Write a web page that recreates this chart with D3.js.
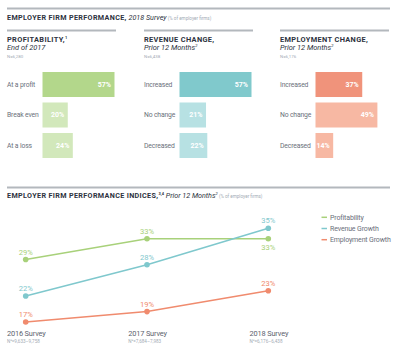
<!DOCTYPE html>
<html><head><meta charset="utf-8">
<script src="https://cdn.jsdelivr.net/npm/d3@7"></script>
<style>html,body{margin:0;padding:0;background:#fff;}svg{display:block;font-family:Roboto,"Noto Sans",sans-serif;}</style>
</head><body><svg id="c" width="400" height="360"></svg>
<script>
const profitCats = ["At a profit","Break even","At a loss"];
const profitVals = [57,20,24];
const revenueCats = ["Increased","No change","Decreased"];
const revenueVals = [57,21,22];
const employmentCats = ["Increased","No change","Decreased"];
const employmentVals = [37,49,14];

const surveys = ["2016 Survey","2017 Survey","2018 Survey"];
const surveyN = ["N\u2075=9,633\u20139,758","N\u2075=7,684\u20137,983","N\u2075=6,176\u20136,438"];
const profitability = [29,33,33];
const revenueGrowth = [22,28,35];
const employmentGrowth = [17,19,23];
const seriesNames = ["Profitability","Revenue Growth","Employment Growth"];

const svg = d3.select("#c");
const dark = "#2d3340", gray = "#6b707b", light = "#a3abb5", rule = "#b3b8bd";

function rl(x1,x2,y){svg.append("line").attr("x1",x1).attr("x2",x2).attr("y1",y).attr("y2",y).attr("stroke",rule).attr("stroke-width",2);}

// top title
rl(7,390,8.5);
let t = svg.append("text").attr("x",7).attr("y",19.5).attr("font-size",7.2).attr("fill",dark);
t.append("tspan").attr("font-weight",700).attr("letter-spacing",0.35).text("EMPLOYER FIRM PERFORMANCE,");
t.append("tspan").attr("font-style","italic").text(" 2018 Survey");
t.append("tspan").attr("font-size",4.6).attr("fill",light).text("  (% of employer firms)");

const panels = [
  {x0:7, title:"PROFITABILITY,", sup:"1", sub:"End of 2017", subSup:"", n:"N=6,280", cats:profitCats, vals:profitVals, c1:"#b3d78b", c2:"#d2e8bb"},
  {x0:144, title:"REVENUE CHANGE,", sup:"", sub:"Prior 12 Months", subSup:"2", n:"N=6,438", cats:revenueCats, vals:revenueVals, c1:"#80c9cc", c2:"#b7e1e3"},
  {x0:280, title:"EMPLOYMENT CHANGE,", sup:"", sub:"Prior 12 Months", subSup:"2", n:"N=6,176", cats:employmentCats, vals:employmentVals, c1:"#f0937b", c2:"#f7b8a3"}
];
const xb = d3.scaleLinear().domain([0,57]).range([0,72]);
panels.forEach(p=>{
  rl(p.x0,p.x0+109,30.5);
  const tt = svg.append("text").attr("x",p.x0).attr("y",41.5).attr("font-size",7.4).attr("fill",dark).attr("font-weight",700).attr("letter-spacing",0.35);
  tt.append("tspan").text(p.title);
  if(p.sup) tt.append("tspan").attr("font-size",4).attr("dy",-3).text(p.sup);
  const st = svg.append("text").attr("x",p.x0).attr("y",50).attr("font-size",7.4).attr("fill",dark).attr("font-style","italic");
  st.append("tspan").text(p.sub);
  if(p.subSup) st.append("tspan").attr("font-size",4).attr("dy",-3).text(p.subSup);
  svg.append("text").attr("x",p.x0).attr("y",58).attr("font-size",4.4).attr("fill",light).text(p.n);
  const yb = d3.scaleBand().domain(p.cats).range([72,158]).paddingInner(0.18);
  const bx = p.x0+35.5;
  const g = svg.append("g");
  p.cats.forEach((c,i)=>{
    const v = p.vals[i];
    g.append("rect").attr("x",bx).attr("y",yb(c)).attr("width",xb(v)).attr("height",yb.bandwidth()).attr("fill",i===0?p.c1:p.c2);
    g.append("text").attr("x",p.x0).attr("y",yb(c)+yb.bandwidth()/2).attr("dy","0.35em").attr("font-size",6.8).attr("fill",gray).attr("letter-spacing",-0.15).text(c);
    g.append("text").attr("x",bx+xb(v)-3.5).attr("y",yb(c)+yb.bandwidth()/2).attr("dy","0.35em").attr("text-anchor","end").attr("font-size",7).attr("font-weight",700).attr("fill","#fff").text(v+"%");
  });
});

// bottom section
rl(7,390,187.5);
let t2 = svg.append("text").attr("x",7).attr("y",197.5).attr("font-size",7.2).attr("fill",dark);
t2.append("tspan").attr("font-weight",700).attr("letter-spacing",0.35).text("EMPLOYER FIRM PERFORMANCE INDICES,");
t2.append("tspan").attr("font-size",4).attr("dy",-3).attr("font-weight",700).text("3,4");
t2.append("tspan").attr("font-style","italic").attr("dy",3).text(" Prior 12 Months");
t2.append("tspan").attr("font-style","italic").attr("font-size",4).attr("dy",-3).text("2");
t2.append("tspan").attr("font-size",4.6).attr("fill",light).attr("dy",3).text("  (% of employer firms)");

const x = d3.scalePoint().domain(surveys).range([25.7,268.3]);
const y = d3.scaleLinear().domain([17,35]).range([322,228.3]);
const series = [
  {name:seriesNames[0], vals:profitability, color:"#a8d17a", below:[false,false,true]},
  {name:seriesNames[1], vals:revenueGrowth, color:"#7fc8cd", below:[false,false,false]},
  {name:seriesNames[2], vals:employmentGrowth, color:"#f08b6e", below:[false,false,false]}
];
const line = d3.line().x((d,i)=>x(surveys[i])).y(d=>y(d));
series.forEach(s=>{
  svg.append("path").attr("d",line(s.vals)).attr("fill","none").attr("stroke",s.color).attr("stroke-width",1.5);
  s.vals.forEach((v,i)=>{
    svg.append("circle").attr("cx",x(surveys[i])).attr("cy",y(v)).attr("r",2.8).attr("fill",s.color);
    svg.append("text").attr("x",x(surveys[i])).attr("y",s.below[i]?y(v)+11:y(v)-5).attr("text-anchor","middle").attr("font-size",7.6).attr("fill",s.color).text(v+"%");
  });
});
surveys.forEach((s,i)=>{
  svg.append("text").attr("x",x(s)-18.8).attr("y",335.5).attr("font-size",7.4).attr("fill","#5d636e").attr("letter-spacing",-0.15).text(s);
  svg.append("text").attr("x",x(s)-18.8).attr("y",342.5).attr("font-size",4.6).attr("fill",light).text(surveyN[i]);
});
// legend
const ly = d3.scalePoint().domain(seriesNames).range([217.3,239.7]);
series.forEach(s=>{
  svg.append("line").attr("x1",321.5).attr("x2",327).attr("y1",ly(s.name)).attr("y2",ly(s.name)).attr("stroke",s.color).attr("stroke-width",1.5);
  svg.append("text").attr("x",330).attr("y",ly(s.name)).attr("dy","0.35em").attr("font-size",7).attr("fill",gray).attr("letter-spacing",-0.15).text(s.name);
});
</script></body></html>
